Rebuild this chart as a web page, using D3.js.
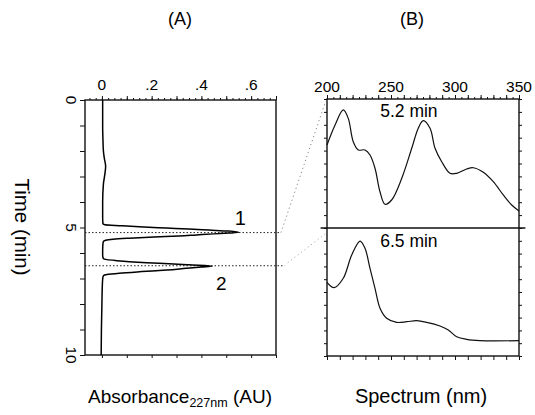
<!DOCTYPE html>
<html>
<head>
<meta charset="utf-8">
<script src="https://cdn.jsdelivr.net/npm/d3@7"></script>
<style>
  body { margin: 0; background: #fff; }
  svg { display: block; }
  text { font-family: "Liberation Sans", Arial, sans-serif; fill: #000; }
</style>
</head>
<body>
<div id="chart"></div>
<script>
const width = 535;
const height = 415;

// chromatogram (A): time (min) vs absorbance at 227 nm (AU)
const chromTime = [0, 0.5, 1.0, 1.5, 2.0, 2.3, 2.6, 2.9, 3.3, 4.0, 4.6, 4.85, 4.89, 4.93, 4.97, 5.02, 5.06, 5.10, 5.14, 5.19,
  5.22, 5.25, 5.29, 5.33, 5.37, 5.42, 5.46, 5.50, 5.55, 5.65, 5.9, 6.1, 6.22, 6.26, 6.30, 6.34, 6.38, 6.42, 6.46, 6.51,
  6.55, 6.60, 6.67, 6.73, 6.79, 6.84, 6.88, 6.95, 7.2, 8.0, 9.0, 10.0];
const chromAbs = [0.003, 0.003, 0.003, 0.004, 0.006, 0.010, 0.015, 0.012, 0.006, 0.003, 0.003, 0.004, 0.012, 0.08, 0.15, 0.26, 0.35, 0.43, 0.51, 0.55,
  0.51, 0.45, 0.38, 0.31, 0.21, 0.11, 0.045, 0.015, 0.006, 0.004, 0.003, 0.003, 0.006, 0.02, 0.06, 0.11, 0.18, 0.27, 0.35, 0.444,
  0.40, 0.34, 0.26, 0.16, 0.07, 0.02, 0.007, 0.004, 0.002, 0.0, -0.002, -0.003];

// peak retention times
const peakTimes = [5.2, 6.5];
const peakNames = ["1", "2"];

// spectra (B), relative absorbance
const spec52Wl = [200, 206.3, 212.7, 216.6, 220.5, 224.5, 229.7, 233.6, 237.5, 241.4, 245.3, 250.5, 258.4, 266.2, 271.3, 275.2,
  280.5, 284.4, 289.6, 296.1, 301.3, 309.1, 314.3, 322.1, 329.9, 337.7, 344.3, 350];
const spec52Abs = [0.643, 0.798, 0.915, 0.850, 0.669, 0.605, 0.605, 0.566, 0.463, 0.281, 0.184, 0.217, 0.385, 0.618, 0.773, 0.832,
  0.773, 0.618, 0.514, 0.424, 0.424, 0.457, 0.467, 0.432, 0.359, 0.256, 0.178, 0.132];
const spec65Wl = [200, 205.5, 212.7, 219.3, 225.8, 229.7, 233.6, 237.5, 241.4, 246.6, 254.4, 262.3, 270.1, 277.9, 288.3, 294.8,
  301.3, 309.1, 319.5, 350];
const spec65Abs = [0.576, 0.534, 0.607, 0.789, 0.898, 0.841, 0.685, 0.529, 0.373, 0.295, 0.263, 0.268, 0.276, 0.263, 0.234, 0.203,
  0.151, 0.130, 0.120, 0.120];

const absTicks = [0, 0.2, 0.4, 0.6];
const timeTicks = [0, 5, 10];
const wlTicks = [200, 250, 300, 350];

const svg = d3.select("#chart").append("svg")
  .attr("width", width)
  .attr("height", height);

// scales
const xA = d3.scaleLinear().domain([-0.068, 0.7]).range([85, 276]);
const yA = d3.scaleLinear().domain([0, 10]).range([100, 355]);
const xB = d3.scaleLinear().domain([200, 350]).range([327, 519]);
const yTop = d3.scaleLinear().domain([0, 1]).range([228, 99]);
const yBot = d3.scaleLinear().domain([0, 1]).range([356, 228]);

function tickAxis(axis, g) {
  g.call(axis);
  g.select(".domain").remove();
  g.selectAll(".tick line").attr("stroke", "#111").attr("stroke-width", 1);
  return g;
}

// ---------- panel A ----------
const gA = svg.append("g");

tickAxis(d3.axisTop(xA).tickValues(d3.range(-0.05, 0.701, 0.025)).tickSize(2).tickFormat(""),
  gA.append("g").attr("transform", `translate(0,${yA(0)})`));
tickAxis(d3.axisTop(xA).tickValues(d3.range(0, 0.701, 0.1)).tickSize(4).tickFormat(""),
  gA.append("g").attr("transform", `translate(0,${yA(0)})`));
tickAxis(d3.axisBottom(xA).tickValues(d3.range(0, 0.701, 0.1)).tickSize(3).tickFormat(""),
  gA.append("g").attr("transform", `translate(0,${yA(10)})`));
tickAxis(d3.axisLeft(yA).tickValues(d3.range(0, 10.01, 1)).tickSize(5).tickFormat(""),
  gA.append("g").attr("transform", `translate(${xA.range()[0]},0)`));

gA.selectAll(".abs-label")
  .data(absTicks)
  .enter().append("text")
  .attr("x", d => xA(d))
  .attr("y", 90)
  .attr("text-anchor", "middle")
  .attr("font-size", 15.5)
  .text(d => d === 0 ? "0" : d3.format(".1f")(d).replace(/^0/, ""));

gA.selectAll(".time-label")
  .data(timeTicks)
  .enter().append("text")
  .attr("transform", d => `translate(71,${yA(d)}) rotate(90)`)
  .attr("text-anchor", "middle")
  .attr("dominant-baseline", "central")
  .attr("font-size", 15.5)
  .text(d => d);

gA.append("rect")
  .attr("x", xA.range()[0]).attr("y", yA(0))
  .attr("width", xA.range()[1] - xA.range()[0])
  .attr("height", yA(10) - yA(0))
  .attr("fill", "none").attr("stroke", "#111").attr("stroke-width", 1.4);

// dotted retention lines
const dotEnd = [0.72, 0.735];
peakTimes.forEach((t, i) => {
  gA.append("line")
    .attr("x1", xA.range()[0]).attr("x2", xA(dotEnd[i]))
    .attr("y1", yA(t)).attr("y2", yA(t))
    .attr("stroke", "#222").attr("stroke-width", 1)
    .attr("stroke-dasharray", "1.5,2");
});

const chrom = chromTime.map((t, i) => ({ t, a: chromAbs[i] }));
gA.append("path")
  .datum(chrom)
  .attr("d", d3.line().x(d => xA(d.a)).y(d => yA(d.t)).curve(d3.curveMonotoneY))
  .attr("fill", "none").attr("stroke", "#000").attr("stroke-width", 1.5);

gA.append("text").attr("x", xA(0.556)).attr("y", yA(4.9))
  .attr("text-anchor", "middle").attr("font-size", 20).text(peakNames[0]);
gA.append("text").attr("x", xA(0.48)).attr("y", yA(7.45))
  .attr("text-anchor", "middle").attr("font-size", 19).text(peakNames[1]);

// ---------- connectors ----------
svg.append("line")
  .attr("x1", xA(dotEnd[0])).attr("y1", yA(peakTimes[0]))
  .attr("x2", xB(198.5)).attr("y2", yTop(0.97))
  .attr("stroke", "#888").attr("stroke-width", 1).attr("stroke-dasharray", "1.2,3");
svg.append("line")
  .attr("x1", xA(dotEnd[1]) + 3).attr("y1", yA(peakTimes[1]) - 3)
  .attr("x2", xB(199.5)).attr("y2", yBot(0.96))
  .attr("stroke", "#aaa").attr("stroke-width", 1).attr("stroke-dasharray", "1.2,3");

// ---------- panel B ----------
const gB = svg.append("g");

tickAxis(d3.axisTop(xB).tickValues(d3.range(200, 351, 5)).tickSize(2).tickFormat(""),
  gB.append("g").attr("transform", `translate(0,${yTop(1)})`));
tickAxis(d3.axisTop(xB).tickValues(d3.range(200, 351, 10)).tickSize(4).tickFormat(""),
  gB.append("g").attr("transform", `translate(0,${yTop(1)})`));
tickAxis(d3.axisBottom(xB).tickValues(d3.range(200, 351, 10)).tickSize(4).tickFormat(""),
  gB.append("g").attr("transform", `translate(0,${yBot(0)})`));
[yTop, yBot].forEach(ys => {
  tickAxis(d3.axisLeft(ys).tickValues(d3.range(0, 1.001, 0.1)).tickSize(3).tickFormat(""),
    gB.append("g").attr("transform", `translate(${xB(200)},0)`));
  tickAxis(d3.axisRight(ys).tickValues(d3.range(0, 1.001, 0.1)).tickSize(3).tickFormat(""),
    gB.append("g").attr("transform", `translate(${xB(350)},0)`));
});

gB.selectAll(".wl-label")
  .data(wlTicks)
  .enter().append("text")
  .attr("x", d => xB(d))
  .attr("y", 92)
  .attr("text-anchor", "middle")
  .attr("font-size", 15.5)
  .text(d => d);

gB.append("rect")
  .attr("x", xB(200)).attr("y", yTop(1))
  .attr("width", xB(350) - xB(200))
  .attr("height", yBot(0) - yTop(1))
  .attr("fill", "none").attr("stroke", "#111").attr("stroke-width", 1.4);

gB.append("line")
  .attr("x1", xB(195)).attr("x2", xB(355))
  .attr("y1", yTop(0)).attr("y2", yTop(0))
  .attr("stroke", "#111").attr("stroke-width", 1.4);

const specLine = ys => d3.line().x(d => xB(d.w)).y(d => ys(d.a)).curve(d3.curveCatmullRom);
gB.append("path")
  .datum(spec52Wl.map((w, i) => ({ w, a: spec52Abs[i] })))
  .attr("d", specLine(yTop))
  .attr("fill", "none").attr("stroke", "#111").attr("stroke-width", 1.2);
gB.append("path")
  .datum(spec65Wl.map((w, i) => ({ w, a: spec65Abs[i] })))
  .attr("d", specLine(yBot))
  .attr("fill", "none").attr("stroke", "#111").attr("stroke-width", 1.2);

gB.append("text").attr("x", xB(264)).attr("y", 117)
  .attr("text-anchor", "middle").attr("font-size", 17.5).text(`${peakTimes[0]} min`);
gB.append("text").attr("x", xB(264)).attr("y", 247)
  .attr("text-anchor", "middle").attr("font-size", 17.5).text(`${peakTimes[1]} min`);

// ---------- titles ----------
svg.append("text").attr("x", 180).attr("y", 25)
  .attr("text-anchor", "middle").attr("font-size", 18).text("(A)");
svg.append("text").attr("x", 412).attr("y", 25)
  .attr("text-anchor", "middle").attr("font-size", 18).text("(B)");

svg.append("text")
  .attr("transform", "translate(22,227) rotate(90)")
  .attr("text-anchor", "middle")
  .attr("dominant-baseline", "central")
  .attr("font-size", 20.5)
  .text("Time (min)");

const absLabel = svg.append("text").attr("x", 180).attr("y", 403)
  .attr("text-anchor", "middle").attr("font-size", 19);
absLabel.append("tspan").text("Absorbance");
absLabel.append("tspan").attr("font-size", 12.5).attr("dy", 4).text("227nm");
absLabel.append("tspan").attr("dy", -4).text(" (AU)");

svg.append("text").attr("x", 421).attr("y", 403)
  .attr("text-anchor", "middle").attr("font-size", 20).text("Spectrum (nm)");
</script>
</body>
</html>
